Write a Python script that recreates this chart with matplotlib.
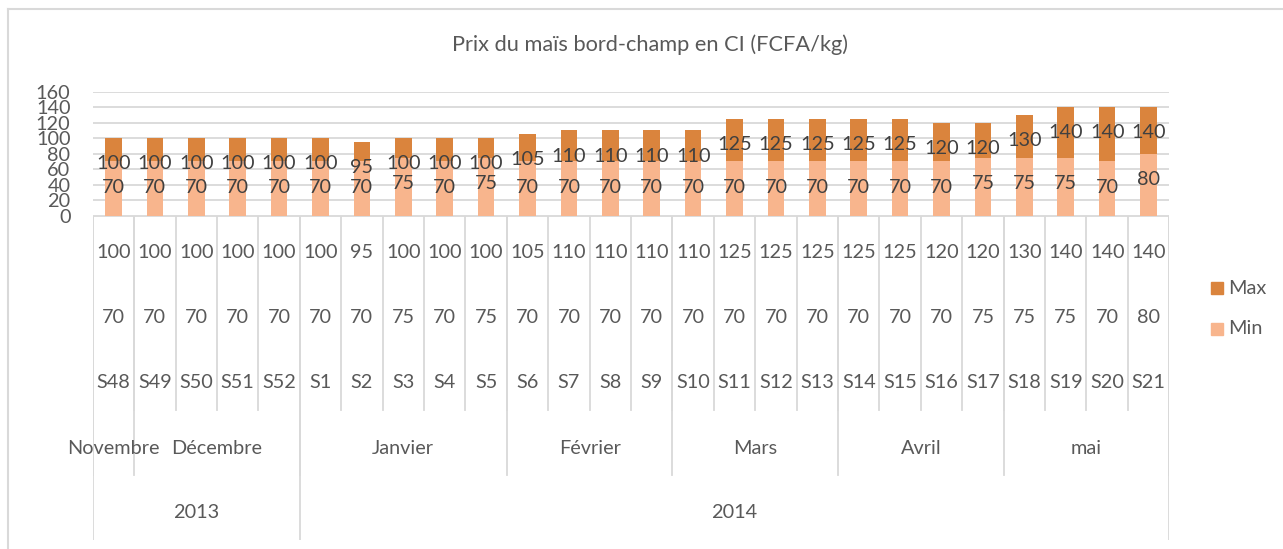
import matplotlib.pyplot as plt
import numpy as np

# weekly data
weeks = ['S48', 'S49', 'S50', 'S51', 'S52'] + ['S%d' % i for i in range(1, 22)]
prix_max = [100, 100, 100, 100, 100, 100, 95, 100, 100, 100, 105, 110, 110,
            110, 110, 125, 125, 125, 125, 125, 120, 120, 130, 140, 140, 140]
prix_min = [70, 70, 70, 70, 70, 70, 70, 75, 70, 75, 70, 70, 70,
            70, 70, 70, 70, 70, 70, 70, 70, 75, 75, 75, 70, 80]
months = ['Novembre', 'Décembre', 'Janvier', 'Février', 'Mars', 'Avril', 'mai']
month_counts = [1, 4, 5, 4, 4, 4, 4]
years = ['2013', '2014']
year_counts = [5, 21]

plt.rcParams['font.family'] = ['Lato', 'DejaVu Sans']
txt = '#595959'
grid_c = '#D9D9D9'
c_max = '#DA843D'
c_min = '#F8B58D'
fs = 14.3

W, H = 1283, 549
fig = plt.figure(figsize=(W / 100, H / 100), dpi=100)

# chart border (top / left only visible)
fig.add_artist(plt.Line2D([8 / W, 8 / W], [0, 1 - 9 / H], color=grid_c, lw=1.5))
fig.add_artist(plt.Line2D([8 / W, 1], [1 - 9 / H, 1 - 9 / H], color=grid_c, lw=1.5))

left, right = 92.7, 1169.3
y0, y160 = 215.7, 91.7
ax = fig.add_axes([left / W, 1 - y0 / H, (right - left) / W, (y0 - y160) / H])

x = np.arange(len(weeks))
ax.bar(x, prix_max, width=0.4, color=c_max, zorder=2)
ax.bar(x, prix_min, width=0.4, color=c_min, zorder=3)
for xi, v in zip(x, prix_max):
    ax.annotate(str(v), (xi, v), xytext=(0, -18.4), textcoords='offset points',
                ha='center', va='center', fontsize=fs, color='#404040', zorder=4)
for xi, v in zip(x, prix_min):
    ax.annotate(str(v), (xi, v), xytext=(0, -18.4), textcoords='offset points',
                ha='center', va='center', fontsize=fs, color='#404040', zorder=4)

ax.set_xlim(-0.5, len(weeks) - 0.5)
ax.set_ylim(0, 160)
ax.set_yticks(range(0, 161, 20))
ax.tick_params(axis='y', length=0, pad=16, labelsize=fs, labelcolor=txt)
ax.set_xticks([])
ax.grid(axis='y', color=grid_c, lw=1.3, zorder=0)
for s in ax.spines.values():
    s.set_visible(False)
ax.set_facecolor('none')

fig.text(650 / W, 1 - 45 / H, 'Prix du maïs bord-champ en CI (FCFA/kg)',
         ha='center', va='center', fontsize=15.7, color=txt)

# category table below the plot
tb = fig.add_axes([left / W, 1 - 540 / H, (right - left) / W, (540 - y0) / H])
tb.set_xlim(-0.5, len(weeks) - 0.5)
tb.set_ylim(540, y0)
tb.axis('off')
tb.plot([-0.5, len(weeks) - 0.5], [y0, y0], color=grid_c, lw=1.3)

rows = [253, 318, 383]
for xi in x:
    tb.text(xi, rows[0], str(prix_max[xi]), ha='center', va='center', fontsize=fs, color=txt)
    tb.text(xi, rows[1], str(prix_min[xi]), ha='center', va='center', fontsize=fs, color=txt)
    tb.text(xi, rows[2], weeks[xi], ha='center', va='center', fontsize=fs, color=txt)

for b in np.arange(len(weeks) + 1) - 0.5:
    tb.plot([b, b], [y0, 410], color=grid_c, lw=1.3)

start = 0
for name, n in zip(months, month_counts):
    tb.text(start + (n - 1) / 2, 448, name, ha='center', va='center', fontsize=fs, color=txt)
    tb.plot([start - 0.5, start - 0.5], [y0, 475], color=grid_c, lw=1.3)
    start += n
tb.plot([start - 0.5, start - 0.5], [y0, 475], color=grid_c, lw=1.3)

start = 0
for name, n in zip(years, year_counts):
    tb.text(start + (n - 1) / 2, 513, name, ha='center', va='center', fontsize=fs, color=txt)
    tb.plot([start - 0.5, start - 0.5], [y0, 540], color=grid_c, lw=1.3)
    start += n
tb.plot([start - 0.5, start - 0.5], [y0, 540], color=grid_c, lw=1.3)

# legend
for label, col, yc in [('Max', c_max, 288), ('Min', c_min, 329)]:
    fig.patches.append(plt.Rectangle((1211 / W, 1 - (yc + 6) / H), 12 / W, 12 / H,
                                     color=col, transform=fig.transFigure))
    fig.text(1228 / W, 1 - yc / H, label, ha='left', va='center', fontsize=fs, color=txt)

fig.savefig('out.png', dpi=100)
